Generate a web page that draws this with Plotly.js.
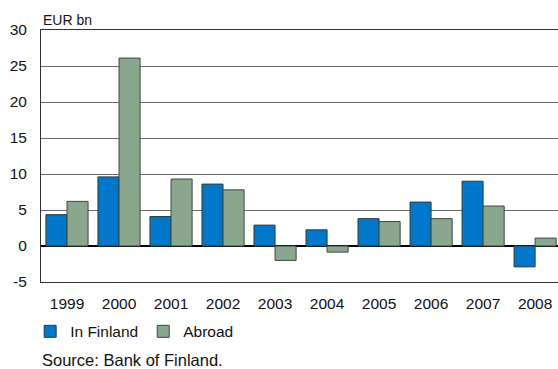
<!DOCTYPE html>
<html><head><meta charset="utf-8">
<script src="https://cdn.plot.ly/plotly-3.0.1.min.js"></script>
<style>html,body{margin:0;padding:0;background:#fff}</style>
</head><body><div id="chart" style="width:558px;height:369px"></div>
<script>
const years = ['1999','2000','2001','2002','2003','2004','2005','2006','2007','2008'];
const inFinland = [4.35, 9.6, 4.1, 8.6, 2.9, 2.25, 3.8, 6.1, 9.0, -2.9];
const abroad = [6.2, 26.1, 9.3, 7.8, -2.0, -0.85, 3.4, 3.8, 5.55, 1.1];
const seriesNames = ['In Finland', 'Abroad'];
const yTicks = [-5, 0, 5, 10, 15, 20, 25, 30];

const font = 'Liberation Sans, Arial, sans-serif';
const traces = [
  {type:'bar', x: years, y: inFinland, name: seriesNames[0],
   marker:{color:'#0077c8', line:{color:'#2f3a40', width:1}}},
  {type:'bar', x: years, y: abroad, name: seriesNames[1],
   marker:{color:'#8aa78e', line:{color:'#3a4a3e', width:1}}}
];
const layout = {
  width:558, height:369,
  margin:{l:41, r:0, t:30, b:87},
  paper_bgcolor:'#fff', plot_bgcolor:'#fff',
  barmode:'group', bargap:0.19, bargroupgap:0,
  font:{family:font, size:15, color:'#111'},
  showlegend:true,
  legend:{orientation:'h', x:-0.021, xanchor:'left', y:-0.13, yanchor:'top',
          font:{family:font, size:15.5, color:'#111'}, itemwidth:30, tracegroupgap:0,
          bgcolor:'rgba(0,0,0,0)'},
  xaxis:{type:'category', range:[-0.5, 9.44], showgrid:false, zeroline:false,
         showline:true, mirror:true, linecolor:'#333', linewidth:1,
         ticks:'outside', ticklen:7, tickcolor:'rgba(0,0,0,0)',
         tickfont:{family:font, size:15.5, color:'#111'}, fixedrange:true},
  yaxis:{range:[-5,30], tickvals:yTicks, ticktext:yTicks.map(String),
         showgrid:true, gridcolor:'#6a6a6a', gridwidth:1,
         zeroline:true, zerolinecolor:'#000', zerolinewidth:1.2,
         showline:true, linecolor:'#333', linewidth:1,
         ticks:'outside', ticklen:10, tickcolor:'rgba(0,0,0,0)',
         tickfont:{family:font, size:15.5, color:'#111'}, fixedrange:true},
  annotations:[
    {text:'EUR bn', xref:'paper', yref:'paper', x:0, y:1, xanchor:'left', yanchor:'bottom',
     yshift:0, showarrow:false, font:{family:font, size:14, color:'#111'}},
    {text:'Source: Bank of Finland.', xref:'paper', yref:'paper', x:-0.002, y:-0.265,
     xanchor:'left', yanchor:'top', showarrow:false, font:{family:font, size:16.5, color:'#111'}}
  ]
};
Plotly.newPlot('chart', traces, layout, {displayModeBar:false, staticPlot:true});
</script></body></html>
